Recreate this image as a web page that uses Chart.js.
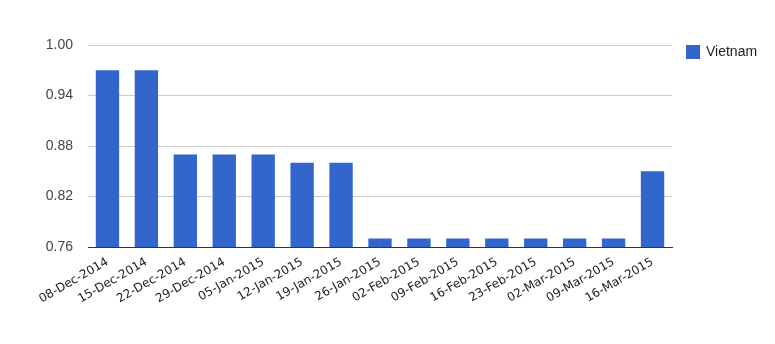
<!DOCTYPE html>
<html>
<head>
<meta charset="utf-8">
<script src="https://cdn.jsdelivr.net/npm/chart.js@4"></script>
<style>
html,body{margin:0;padding:0;background:#fff;}
#wrap{width:775px;height:344px;position:relative;}
</style>
</head>
<body>
<div id="wrap"><canvas id="c" width="775" height="344"></canvas></div>
<script>
const categories = ["08-Dec-2014","15-Dec-2014","22-Dec-2014","29-Dec-2014","05-Jan-2015","12-Jan-2015","19-Jan-2015","26-Jan-2015","02-Feb-2015","09-Feb-2015","16-Feb-2015","23-Feb-2015","02-Mar-2015","09-Mar-2015","16-Mar-2015"];
const vietnam = [0.97,0.97,0.87,0.87,0.87,0.86,0.86,0.77,0.77,0.77,0.77,0.77,0.77,0.77,0.85];
const yTicks = [0.76,0.82,0.88,0.94,1.00];
const seriesName = "Vietnam";

const legendPlugin = {
  id: 'sideLegend',
  afterDraw(chart) {
    const ctx = chart.ctx;
    const ds = chart.data.datasets[0];
    ctx.save();
    ctx.fillStyle = ds.backgroundColor;
    ctx.fillRect(686, 45, 14, 14);
    ctx.fillStyle = '#222';
    ctx.font = '14px "Liberation Sans", Arial, sans-serif';
    ctx.textBaseline = 'middle';
    ctx.textAlign = 'left';
    ctx.fillText(ds.label, 706, 52);
    ctx.restore();
  }
};

new Chart(document.getElementById('c'), {
  type: 'bar',
  data: {
    labels: categories,
    datasets: [{
      label: seriesName,
      data: vietnam,
      backgroundColor: '#3366CC',
      borderWidth: 0,
      barPercentage: 0.6,
      categoryPercentage: 1.0
    }]
  },
  options: {
    responsive: false,
    animation: false,
    devicePixelRatio: 1,
    layout: { padding: { left: 0, top: 45, right: 103, bottom: 0 } },
    plugins: { legend: { display: false }, tooltip: { enabled: false } },
    scales: {
      x: {
        grid: { display: false, drawTicks: false },
        border: { display: true, color: '#333', width: 1 },
        ticks: {
          autoSkip: false, maxRotation: 30, minRotation: 30, padding: 8,
          color: '#222',
          font: { family: '"DejaVu Sans", Verdana, sans-serif', size: 12 }
        },
        afterFit(s) { s.height = 97; }
      },
      y: {
        min: yTicks[0], max: yTicks[yTicks.length-1],
        afterBuildTicks(s) { s.ticks = yTicks.map(v => ({ value: v })); },
        grid: { color: '#cccccc', drawTicks: false },
        border: { display: false },
        ticks: {
          padding: 15, color: '#444',
          font: { family: '"Liberation Sans", Arial, sans-serif', size: 14 },
          callback: v => Number(v).toFixed(2)
        },
        afterFit(s) { s.width = 88; }
      }
    }
  },
  plugins: [legendPlugin]
});
</script>
</body>
</html>
